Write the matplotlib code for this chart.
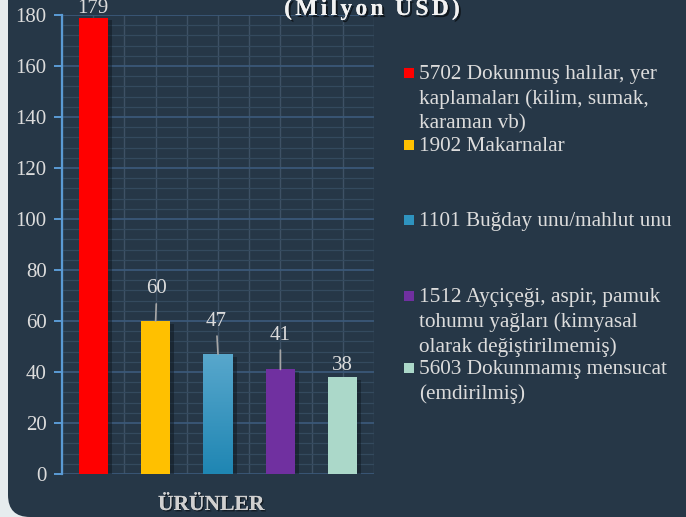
import matplotlib
matplotlib.use('Agg')
import matplotlib.pyplot as plt
import matplotlib.patheffects as pe
from matplotlib.patches import FancyBboxPatch, Rectangle
from matplotlib.transforms import IdentityTransform
import numpy as np

# veriler
urunler = ['5702 Dokunmuş halılar, yer\nkaplamaları (kilim, sumak,\nkaraman vb)',
           '1902 Makarnalar',
           '1101 Buğday unu/mahlut unu',
           '1512 Ayçiçeği, aspir, pamuk\ntohumu yağları (kimyasal\nolarak değiştirilmemiş)',
           '5603 Dokunmamış mensucat\n(emdirilmiş)']
degerler = [179, 60, 47, 41, 38]
renkler = ['#FF0000', '#FFC000', '#2E93BF', '#7030A0', '#ABD8C9']
yticks = [0, 20, 40, 60, 80, 100, 120, 140, 160, 180]
baslik = '(Milyon USD)'

# etiket konumlari (stil)
etiket_y = [182.6, 72.6, 60.0, 54.5, 42.6]
etiket_dx = [0.0, 0.02, -0.03, 0.0, 0.0]
cizgi = [False, True, True, True, False]

bg = '#263747'
txt = '#dcdcdc'
W, H = 686, 517

fig = plt.figure(figsize=(W / 100, H / 100), dpi=100)
fig.patch.set_facecolor('#e6ecee')
panel = FancyBboxPatch((8 + 22, 0 + 22), 1000, 1000,
                       boxstyle='round,pad=22,rounding_size=22',
                       transform=IdentityTransform(), facecolor=bg,
                       edgecolor='none', zorder=0)
fig.patches.append(panel)

ax = fig.add_axes([62 / W, 43 / H, 312 / W, 459 / H])
ax.set_zorder(2)
ax.patch.set_alpha(0)

x = np.arange(len(degerler))
bars = ax.bar(x, degerler, width=0.465, color=renkler, zorder=3,
              path_effects=[pe.SimplePatchShadow(offset=(3, -2), shadow_rgbFace='#0c141c', alpha=0.45),
                            pe.Normal()])

# mavi cubuk icin gradyan
b = bars[2]
grad = np.linspace(0, 1, 100).reshape(-1, 1)
cmap = matplotlib.colors.LinearSegmentedColormap.from_list('g', ['#1F86B3', '#58A7CC'])
ax.imshow(grad, cmap=cmap, aspect='auto', origin='lower', zorder=3.5,
          extent=[b.get_x(), b.get_x() + b.get_width(), 0, b.get_height()])

ax.set_xlim(-0.5, len(degerler) - 0.5)
ax.set_ylim(0, 180)
ax.set_yticks(yticks)
ax.set_yticks(np.arange(0, 181, 4), minor=True)
ax.set_xticks(np.arange(-0.5, len(degerler), 1))
ax.set_xticks(np.arange(0, len(degerler), 1), minor=True)
ax.grid(which='major', axis='y', color='#3A5878', lw=1.3, zorder=1)
ax.grid(which='minor', axis='y', color='#344a5e', lw=0.9, zorder=0.9)
ax.grid(which='both', axis='x', color='#3E5165', lw=1.0, zorder=1)

for s in ['top', 'right', 'bottom']:
    ax.spines[s].set_visible(False)
ax.spines['left'].set_color('#5B9BD5')
ax.spines['left'].set_linewidth(1.6)
ax.tick_params(axis='y', which='major', colors='#5B9BD5', length=6, width=1.4,
               labelcolor=txt, labelsize=15, pad=5)
ax.tick_params(axis='y', which='minor', length=0)
ax.tick_params(axis='x', which='both', length=0, labelbottom=False)
for lab in ax.get_yticklabels():
    lab.set_fontfamily('Liberation Serif')

for i, v in enumerate(degerler):
    ap = dict(arrowstyle='-', color='#a6a6a6', lw=1.2, shrinkA=2, shrinkB=0) if cizgi[i] else None
    ax.annotate(str(v), xy=(x[i], v), xytext=(x[i] + etiket_dx[i], etiket_y[i]),
                ha='center', va='center', fontsize=15, color=txt,
                family='Liberation Serif', arrowprops=ap, annotation_clip=False, zorder=5)

# baslik: harf araligi genis, harf harf yazilir
r = fig.canvas.get_renderer()
golge = [pe.withSimplePatchShadow(offset=(1.5, -1.5), shadow_rgbFace='black', alpha=0.6), pe.Normal()]
parcalar = []
for ch in baslik:
    t = fig.text(0, 1 - 15 / H, ch, ha='left', va='baseline', fontsize=17,
                 fontweight='bold', color='#f2f2f2', family='Liberation Serif',
                 path_effects=golge)
    parcalar.append(t)
genislik = [t.get_window_extent(r).width if t.get_text() != ' ' else 5 for t in parcalar]
bosluk = 3.2
toplam = sum(genislik) + bosluk * (len(parcalar) - 1)
xp = 372 - toplam / 2
for t, w in zip(parcalar, genislik):
    t.set_x(xp / W)
    xp += w + bosluk

fig.text(211 / W, 7 / H, 'ÜRÜNLER', ha='center', va='baseline', fontsize=15.5,
         fontweight='bold', color='#d0d0d0', family='Liberation Serif',
         path_effects=[pe.withSimplePatchShadow(offset=(1, -1), shadow_rgbFace='black', alpha=0.5),
                       pe.Normal()])

# lejant
leg_y = [73, 145, 220, 296, 368]
for i, lab in enumerate(urunler):
    yc = leg_y[i]
    fig.patches.append(Rectangle((404, H - yc - 5), 10, 10, transform=IdentityTransform(),
                                 facecolor=renkler[i], edgecolor='none', zorder=1))
    fig.text(419 / W, 1 - (yc - 8) / H, lab, ha='left', va='top', fontsize=15.3,
             color=txt, family='Liberation Serif', linespacing=1.37)

fig.savefig('out.png', dpi=100, facecolor=fig.get_facecolor())
